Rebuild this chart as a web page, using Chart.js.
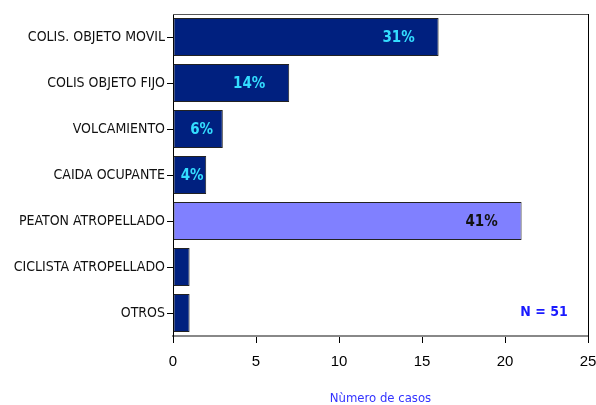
<!DOCTYPE html>
<html>
<head>
<meta charset="utf-8">
<script src="https://cdn.jsdelivr.net/npm/chart.js@4"></script>
<style>
  html, body { margin: 0; padding: 0; background: #fff; }
  #wrap { width: 596px; height: 405px; }
</style>
</head>
<body>
<div id="wrap"><canvas id="accidentes-chart" width="596" height="405"></canvas></div>
<script>
const categorias = ['COLIS. OBJETO MOVIL', 'COLIS OBJETO FIJO', 'VOLCAMIENTO', 'CAIDA OCUPANTE',
    'PEATON ATROPELLADO', 'CICLISTA ATROPELLADO', 'OTROS'];
const casos = [16, 7, 3, 2, 21, 1, 1];
const porcentajes = ['31%', '14%', '6%', '4%', '41%', '', ''];
const coloresBarra = ['#00207f', '#00207f', '#00207f', '#00207f', '#8080ff', '#00207f', '#00207f'];
const coloresEtiqueta = ['#33ddff', '#33ddff', '#33ddff', '#33ddff', '#111111', '', ''];
const ticksX = [0, 5, 10, 15, 20, 25];
const totalCasos = 'N = 51';

const narrow = '"DejaVu Sans Condensed", "DejaVu Sans", sans-serif';

// percent labels, frame and N = 51 note
const extras = {
    id: 'extras',
    afterDatasetsDraw(chart) {
        const ctx = chart.ctx;
        const area = chart.chartArea;
        const meta = chart.getDatasetMeta(0);
        ctx.save();
        ctx.font = 'bold condensed 15px ' + narrow;
        ctx.textAlign = 'center';
        ctx.textBaseline = 'middle';
        meta.data.forEach((bar, i) => {
            if (!porcentajes[i]) return;
            const w = bar.x - bar.base;
            const cx = w < 80 ? bar.base + w * 0.57 : bar.x - 40;
            ctx.fillStyle = coloresEtiqueta[i];
            ctx.fillText(porcentajes[i], cx, bar.y + 1);
        });
        ctx.font = 'bold condensed 14px ' + narrow;
        ctx.fillStyle = '#1a1aff';
        ctx.fillText(totalCasos, 544, 312);

        // frame: top gray, right black
        ctx.lineWidth = 1;
        ctx.strokeStyle = '#555';
        ctx.beginPath();
        ctx.moveTo(area.left, area.top + 0.5);
        ctx.lineTo(area.right, area.top + 0.5);
        ctx.stroke();
        ctx.strokeStyle = '#000';
        ctx.beginPath();
        ctx.moveTo(area.right + 0.5, area.top);
        ctx.lineTo(area.right + 0.5, area.bottom + 7);
        ctx.stroke();
        ctx.restore();
    }
};

const ctx = document.getElementById('accidentes-chart').getContext('2d');
const myChart = new Chart(ctx, {
    type: 'bar',
    data: {
        labels: categorias,
        datasets: [{
            data: casos,
            backgroundColor: coloresBarra,
            borderColor: '#222',
            borderWidth: 1,
            borderSkipped: false,
            barPercentage: 0.83,
            categoryPercentage: 1
        }]
    },
    options: {
        indexAxis: 'y',
        responsive: false,
        animation: false,
        layout: { padding: { top: 14, right: 0, left: 0, bottom: 0 } },
        plugins: {
            legend: { display: false },
            tooltip: { enabled: false }
        },
        scales: {
            x: {
                min: 0,
                max: 25,
                afterBuildTicks(scale) { scale.ticks = ticksX.map(v => ({ value: v })); },
                afterFit(scale) { scale.height = 69; scale.paddingRight = 8; },
                grid: { drawOnChartArea: false, color: '#000', tickLength: 7 },
                border: { color: '#888', width: 2 },
                ticks: { color: '#000', font: { family: '"Liberation Sans", Arial, sans-serif', size: 15 }, padding: 10, maxRotation: 0 },
                title: {
                    display: true,
                    text: 'Nùmero de casos',
                    color: '#3333ff',
                    font: { family: narrow, size: 13, weight: 'normal condensed' },
                    padding: { top: 0, bottom: -1 }
                }
            },
            y: {
                afterFit(scale) { scale.width = 173; },
                grid: { drawOnChartArea: false, color: '#000', tickLength: 6, offset: false },
                border: { color: '#000', width: 1 },
                ticks: { color: '#111', font: { family: narrow, size: 14, weight: 'normal condensed' }, padding: 2, autoSkip: false }
            }
        }
    },
    plugins: [extras]
});
</script>
</body>
</html>
